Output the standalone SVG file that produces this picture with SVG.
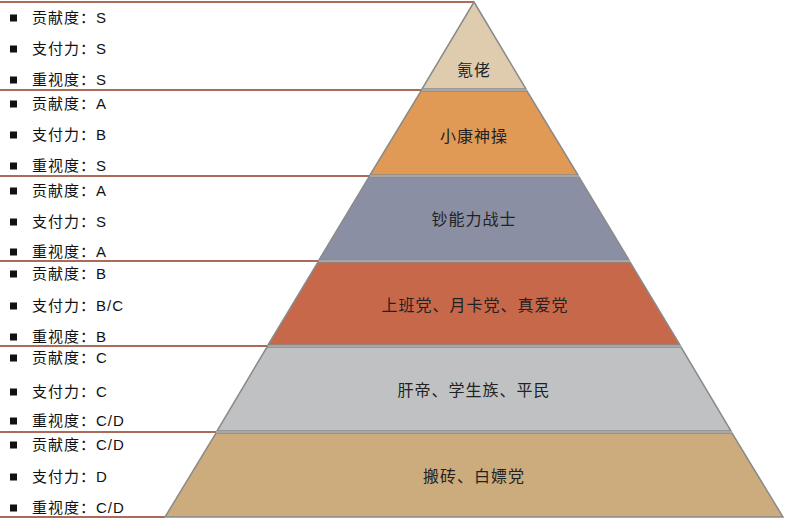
<svg xmlns="http://www.w3.org/2000/svg" width="785" height="528" viewBox="0 0 785 528">
<style>
.lvl{stroke:#8a8a8a;stroke-width:1.5}
.lbl{font-family:"Noto Sans CJK SC","Liberation Sans",sans-serif;font-size:16px;fill:#222;text-anchor:middle;letter-spacing:1px}
.t{font-family:"Liberation Sans","Noto Sans CJK SC",sans-serif;font-size:15px;fill:#111;letter-spacing:1px}
.sep{stroke:#8f3a22;stroke-width:1.6}
.b{fill:#111}
</style>
<rect width="785" height="528" fill="#fff"/>
<g id="connectors">
<line class="sep" x1="0" y1="2" x2="474" y2="2"/>
<line class="sep" x1="0" y1="90" x2="422" y2="90"/>
<line class="sep" x1="0" y1="176" x2="370" y2="176"/>
<line class="sep" x1="0" y1="261" x2="319" y2="261"/>
<line class="sep" x1="0" y1="346" x2="268" y2="346"/>
<line class="sep" x1="0" y1="432" x2="216" y2="432"/>
<line class="sep" x1="0" y1="517" x2="165" y2="517"/>
</g>
<g id="level1">
<polygon class="lvl" fill="#dfcbad" points="474,2 526,89 422,89"/>
<text class="lbl" x="474" y="76">氪佬</text>
</g>
<g id="level2">
<polygon class="lvl" fill="#e09a55" points="421,91 527,91 578,175 370,175"/>
<text class="lbl" x="474" y="142">小康神操</text>
</g>
<g id="level3">
<polygon class="lvl" fill="#8a8fa4" points="369,177 579,177 629,260 319,260"/>
<text class="lbl" x="474" y="225">钞能力战士</text>
</g>
<g id="level4">
<polygon class="lvl" fill="#c8684b" points="318,262 630,262 680,345 268,345"/>
<text class="lbl" x="475" y="311">上班党、月卡党、真爱党</text>
</g>
<g id="level5">
<polygon class="lvl" fill="#c0c1c3" points="267,347 681,347 731,431 217,431"/>
<text class="lbl" x="474" y="396">肝帝、学生族、平民</text>
</g>
<g id="level6">
<polygon class="lvl" fill="#ccab7d" points="216,433 732,433 783,517 165,517"/>
<text class="lbl" x="474" y="482">搬砖、白嫖党</text>
</g>
<g id="attrs">
<rect class="b" x="10" y="14.5" width="7" height="7"/><text class="t" x="32" y="23">贡献度：S</text>
<rect class="b" x="10" y="45.5" width="7" height="7"/><text class="t" x="32" y="54">支付力：S</text>
<rect class="b" x="10" y="76.5" width="7" height="7"/><text class="t" x="32" y="85">重视度：S</text>

<rect class="b" x="10" y="100.5" width="7" height="7"/><text class="t" x="32" y="109">贡献度：A</text>
<rect class="b" x="10" y="131.5" width="7" height="7"/><text class="t" x="32" y="140">支付力：B</text>
<rect class="b" x="10" y="162.5" width="7" height="7"/><text class="t" x="32" y="171">重视度：S</text>

<rect class="b" x="10" y="187.5" width="7" height="7"/><text class="t" x="32" y="196">贡献度：A</text>
<rect class="b" x="10" y="218.5" width="7" height="7"/><text class="t" x="32" y="227">支付力：S</text>
<rect class="b" x="10" y="248.5" width="7" height="7"/><text class="t" x="32" y="257">重视度：A</text>

<rect class="b" x="10" y="270.5" width="7" height="7"/><text class="t" x="32" y="279">贡献度：B</text>
<rect class="b" x="10" y="302.5" width="7" height="7"/><text class="t" x="32" y="311">支付力：B/C</text>
<rect class="b" x="10" y="333.5" width="7" height="7"/><text class="t" x="32" y="342">重视度：B</text>

<rect class="b" x="10" y="354.5" width="7" height="7"/><text class="t" x="32" y="363">贡献度：C</text>
<rect class="b" x="10" y="388.5" width="7" height="7"/><text class="t" x="32" y="397">支付力：C</text>
<rect class="b" x="10" y="417.5" width="7" height="7"/><text class="t" x="32" y="426">重视度：C/D</text>

<rect class="b" x="10" y="441.5" width="7" height="7"/><text class="t" x="32" y="450">贡献度：C/D</text>
<rect class="b" x="10" y="473.5" width="7" height="7"/><text class="t" x="32" y="482">支付力：D</text>
<rect class="b" x="10" y="504.5" width="7" height="7"/><text class="t" x="32" y="513">重视度：C/D</text>
</g>
</svg>
